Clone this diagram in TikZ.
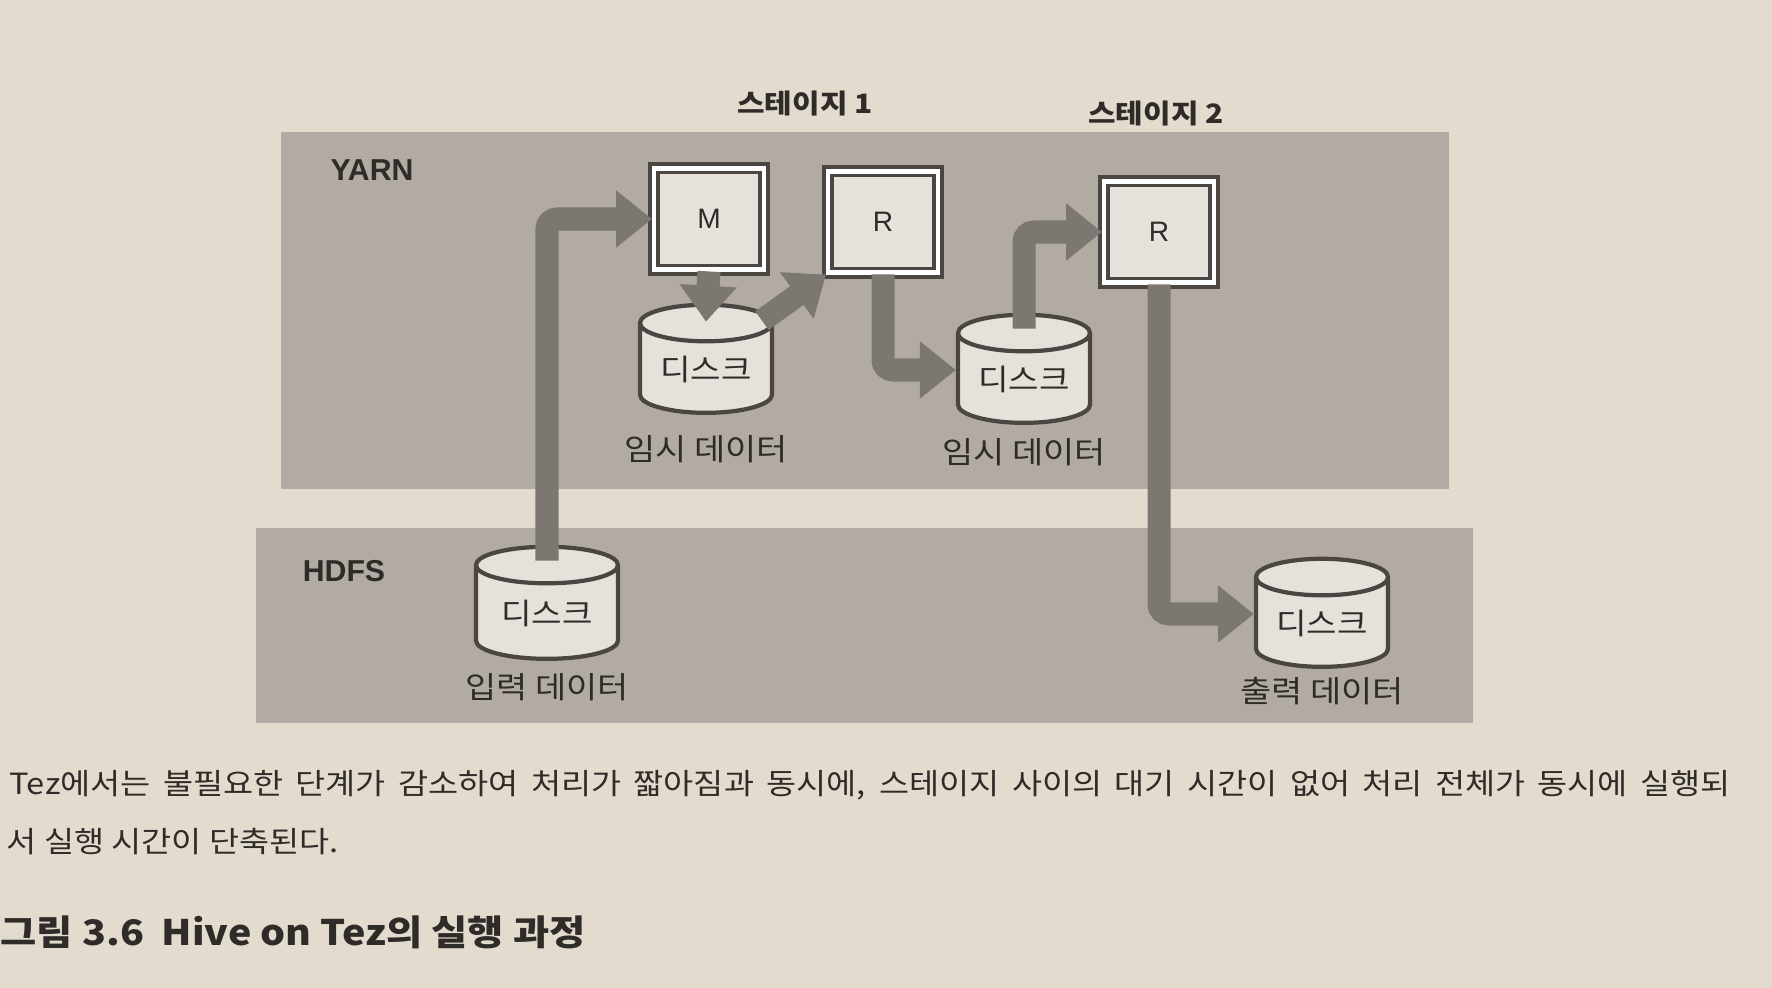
\documentclass[tikz,border=0pt]{standalone}
\usepackage{fontspec}
\setmainfont{Noto Sans CJK KR}[FakeStretch=1.12]
\newfontfamily\latfont{Liberation Sans}
\usetikzlibrary{arrows.meta, positioning, shapes.geometric, calc}

\definecolor{paper}{HTML}{E3DCCE}
\definecolor{panelgray}{HTML}{B1ABA3}
\definecolor{flowgray}{HTML}{7D7772}
\definecolor{boxfill}{HTML}{E6E1DA}
\definecolor{inkline}{HTML}{4B4642}
\definecolor{ink}{HTML}{2F2B28}

\begin{document}
\begin{tikzpicture}[x=0.01cm, y=-0.01cm, node distance=0.05cm,
    panel/.style = {fill=panelgray},
    task/.style = {draw=inkline, line width=1.1pt, double=white, double distance=1.2pt,
      fill=boxfill, minimum width=1.1cm, minimum height=1.01cm, inner sep=0pt,
      text=ink, font=\latfont\fontsize{8pt}{9pt}\selectfont},
    disk/.style = {cylinder, shape border rotate=90, aspect=0.4, draw=inkline,
      line width=1.2pt, fill=boxfill, minimum width=1.32cm, minimum height=1.08cm,
      inner sep=0pt, text=ink, font=\fontsize{8.4pt}{9pt}\selectfont},
    diskname/.style = {text=ink, font=\fontsize{8.6pt}{9pt}\selectfont},
    layername/.style = {text=ink, font=\latfont\bfseries\fontsize{8.6pt}{10pt}\selectfont},
    stage/.style = {text=ink, font=\bfseries\fontsize{7.6pt}{9pt}\selectfont},
    notetext/.style = {text=ink, inner sep=0pt, anchor=west, font=\fontsize{8.3pt}{9pt}\selectfont},
    figtitle/.style = {text=ink, inner sep=0pt, anchor=west, font=\bfseries\fontsize{10pt}{12pt}\selectfont},
    flow/.style = {draw=flowgray, line width=0.23cm, rounded corners=0.1cm,
      -{Triangle[width=0.55cm, length=0.36cm]}}]

    % page and the two layers
    \fill[paper] (0,0) rectangle (1772,988);
    \fill[panel] (281,132) rectangle (1449,489);
    \fill[panel] (256,528) rectangle (1473,723);
    \node[layername] (yarn) at (372,170) {YARN};
    \node[layername] (hdfs) at (344,571) {HDFS};

    % tasks
    \node[task] (M) at (709,219) {M};
    \node[task] (R1) at (883,222) {R};
    \node[task] (R2) at (1159,232) {R};
    \node[stage] (s1) at (805,104) {스테이지 1};
    \node[stage] (s2) at (1156,114) {스테이지 2};

    % disks
    \node[disk] (t1) at (706,369) {디스크};
    \node[disk] (t2) at (1024,379) {디스크};
    \node[disk, minimum width=1.42cm, minimum height=1.12cm] (in) at (547,613) {디스크};
    \node[disk] (out) at (1322,623) {디스크};
    \node[diskname] (t1l) [below=0.08cm of t1] {임시 데이터};
    \node[diskname] (t2l) [below=0.01cm of t2] {임시 데이터};
    \node[diskname] (inl) [below=0cm of in] {입력 데이터};
    \node[diskname] (outl) [below=-0.04cm of out] {출력 데이터};

    \draw[flow] ($(in.north)+(0,16)$) |- (M.west);
    \draw[flow] (M.south) -- ($(t1.north)+(0,19)$);
    \draw[flow] ($(t1.north)+(56,18)$) -- (R1.south west);
    \draw[flow] (R1.south) |- ($(t2.west)+(0,-9)$);
    \draw[flow] ($(t2.north)+(0,16)$) |- (R2.west);
    \draw[flow] (R2.south) |- ($(out.west)+(0,-9)$);

    % text below the figure
    \node[notetext] (note1) at (9,785) {\makebox[17.2cm][s]{Tez에서는 불필요한 단계가 감소하여 처리가 짧아짐과 동시에, 스테이지 사이의 대기 시간이 없어 처리 전체가 동시에 실행되}};
    \node[notetext] (note2) at (6,842) {서 실행 시간이 단축된다.};
    \node[figtitle] (fig) at (0,932) {그림 3.6\enspace Hive on Tez의 실행 과정};
\end{tikzpicture}
\end{document}
